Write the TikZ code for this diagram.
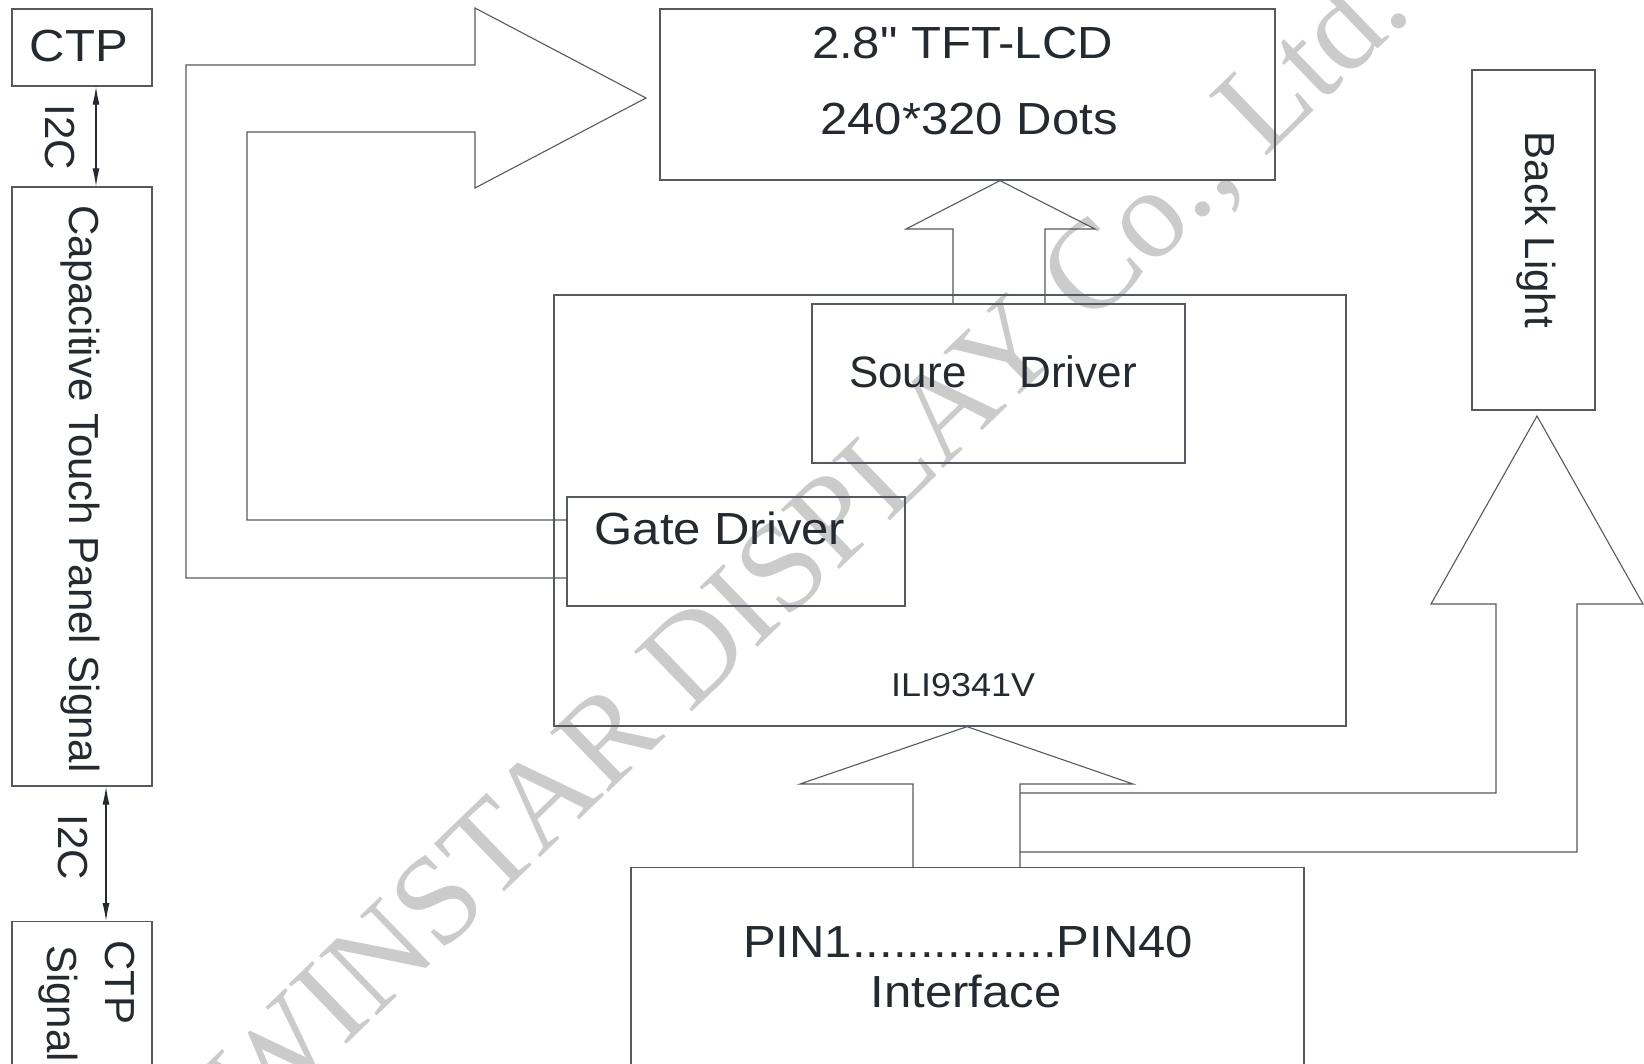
\documentclass[tikz,border=0pt]{standalone}
\usepackage{fontspec}
\newfontfamily\dsans{Liberation Sans}
\newfontfamily\dwide[FakeStretch=1.09]{Liberation Sans}
\newfontfamily\wmfont{Liberation Serif}
\usepackage{xcolor}
\usetikzlibrary{arrows.meta,positioning,calc}
\definecolor{lineGray}{HTML}{555A60}
\definecolor{inkDark}{HTML}{252A30}
\definecolor{markGray}{HTML}{CBCBCB}

\begin{document}
\begin{tikzpicture}[
    x=1pt,y=-1pt,
    >={Latex[length=18pt,width=7pt]},
    box/.style={rectangle,draw=lineGray,line width=1.3pt,inner sep=0pt},
    blk/.style={draw=lineGray,line width=1.1pt},
    lab/.style={inner sep=0pt,text=inkDark,font=\dwide\fontsize{45}{54}\selectfont},
    labp/.style={lab,font=\dsans\fontsize{44}{53}\selectfont},
    labm/.style={lab,font=\dsans\fontsize{42}{50}\selectfont},
    labs/.style={lab,font=\dwide\fontsize{33}{40}\selectfont},
    bus/.style={<->,draw=inkDark,line width=1.1pt}
  ]
  \useasboundingbox (0,0) rectangle (1644,1063);
  \clip (0,0) rectangle (1644,1063);
  \fill[white] (0,0) rectangle (1644,1063);
  % watermark
  \node[inner sep=0pt,text=markGray,font=\wmfont\fontsize{127}{127}\selectfont,rotate=44] (wm) at (812,548) {WINSTAR DISPLAY Co., Ltd.};

  % touch panel column
  \node[box,minimum width=140,minimum height=77] (ctp) at (82,47.5) {};
  \node[lab,anchor=base] (ctpT) at (79,61) {CTP};
  \node[box,minimum width=140,minimum height=599] (cpanel) at (82,486.5) {};
  \node[labm,rotate=-90,anchor=base] (cpanelT) at (69,489) {Capacitive Touch Panel Signal};
  \node[box,minimum width=140,minimum height=260,anchor=north] (ctpsig) at (82,921) {};
  \node[labm,rotate=-90,anchor=base west] (ctpsigA) at (105,940) {CTP};
  \node[labm,rotate=-90,anchor=base west] (ctpsigB) at (47,945) {Signal};
  \draw[bus] ([xshift=14]ctp.south) -- ([xshift=14]cpanel.north);
  \node[labm,rotate=-90,anchor=base] (i2cA) at (45,137.5) {I2C};
  \draw[bus] ([xshift=24]cpanel.south) -- ([xshift=24]ctpsig.north);
  \node[labm,rotate=-90,anchor=base] (i2cB) at (58.5,847.5) {I2C};

  % panel, driver IC and interface
  \node[box,minimum width=615,minimum height=171] (tft) at (967.5,94.5) {};
  \node[lab,anchor=base] (tftA) at (962.5,58) {2.8" TFT-LCD};
  \node[lab,anchor=base] (tftB) at (969,134) {240*320 Dots};
  \node[box,minimum width=792,minimum height=431] (ili) at (950,510.5) {};
  \node[labs,anchor=base] (iliT) at (963,696) {ILI9341V};
  \node[box,minimum width=373,minimum height=159] (src) at (998.5,383.5) {};
  \node[labp,anchor=base] (srcT) at (993,387.5) {Soure\hspace{53pt}Driver};
  \node[box,minimum width=338,minimum height=109] (gate) at (736,551.5) {};
  \node[lab,anchor=base] (gateT) at (720,544.5) {Gate Driver};
  \node[box,minimum width=123,minimum height=340] (blight) at (1533.5,240) {};
  \node[labm,rotate=-90,anchor=base] (blightT) at (1525.5,230) {Back Light};
  \node[box,minimum width=673,minimum height=300,anchor=north] (pin) at (967.5,867) {};
  \node[lab,anchor=base] (pinA) at (968,957) {PIN1...............PIN40};
  \node[lab,anchor=base] (pinB) at (966,1007) {Interface};

  % block arrows
  \draw[blk] (gate.west |- 0,578) -- (186,578) -- (186,65) -- (475,65) -- (475,8) -- (646,98)
        -- (475,188) -- (475,132) -- (247,132) -- (247,520) -- (gate.west |- 0,520);
  \draw[blk] (953,0 |- src.north) -- (953,229) -- (906,229) -- (1000,0 |- tft.south)
        -- (1095,229) -- (1045,229) -- (1045,0 |- src.north);
  \draw[blk] (913,0 |- pin.north) -- (913,784) -- (800,784) -- (967,0 |- ili.south)
        -- (1133,784) -- (1020,784) -- (1020,0 |- pin.north);
  \draw[blk] (1020,793) -- (1496,793) -- (1496,604) -- (1431,604) -- (1537,416)
        -- (1643,604) -- (1577,604) -- (1577,852) -- (1020,852);
\end{tikzpicture}
\end{document}
